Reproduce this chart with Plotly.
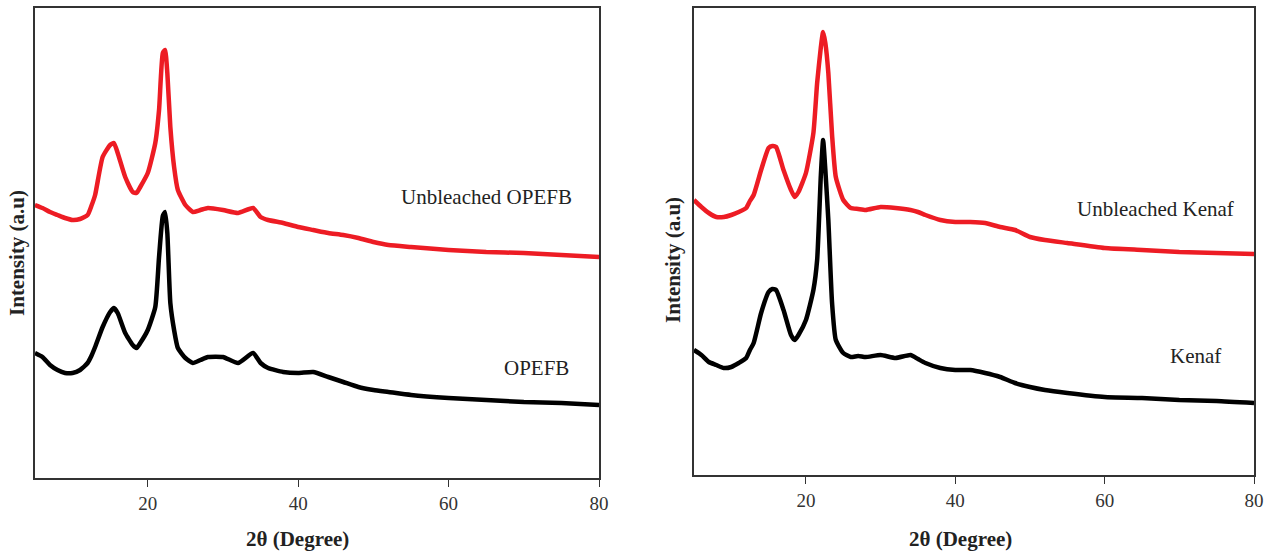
import plotly.graph_objects as go

# 2-theta positions (degrees)
two_theta = [5, 6, 7, 8, 9, 10, 11, 12, 12.5, 13, 14, 15, 15.5, 16, 17, 18, 18.5, 19, 20, 21, 21.5,
             22, 22.3, 22.6, 23, 23.5, 24, 25, 26, 27, 28, 30, 32, 34, 35, 36, 38, 40,
             42, 44, 46, 48, 50, 52, 55, 60, 65, 70, 75, 80]

# Intensities (a.u.)
opefb_unbleached = [273, 270, 266, 263, 260, 258, 259, 263, 272, 283, 321, 333, 335, 325, 301, 286, 285, 291, 305, 335, 368,
                    425, 428, 405, 351, 311, 288, 273, 266, 268, 270, 268, 265, 270, 261, 258, 255, 251,
                    248, 245, 243, 240, 236, 233, 231, 228, 226, 225, 223, 221]
opefb = [125, 121, 113, 108, 105, 105, 108, 115, 122, 131, 151, 166, 170, 165, 145, 133, 130, 135, 148, 171, 221,
         262, 266, 245, 175, 148, 130, 120, 115, 118, 121, 121, 115, 125, 115, 110, 106, 105,
         106, 101, 96, 91, 88, 86, 83, 80, 78, 76, 75, 73]
kenaf_unbleached = [275, 268, 262, 258, 258, 260, 263, 267, 274, 280, 305, 327, 329, 328, 305, 285, 278, 283, 302, 342, 392,
                    428, 443, 432, 402, 340, 298, 275, 267, 266, 265, 268, 267, 265, 263, 260, 255, 253,
                    253, 252, 248, 245, 238, 235, 232, 227, 225, 223, 222, 221]
kenaf = [125, 120, 113, 110, 107, 108, 112, 117, 125, 132, 162, 183, 186, 185, 165, 140, 135, 140, 155, 185, 215,
         300, 335, 305, 255, 172, 135, 122, 118, 119, 118, 120, 117, 120, 116, 112, 107, 105,
         105, 102, 98, 92, 88, 85, 82, 78, 77, 75, 74, 72]

x_ticks = [20, 40, 60, 80]

RED = "#ED1C24"
FONT = "Liberation Serif"
LINE = dict(width=4.5, shape="spline", smoothing=0.5)

fig = go.Figure()
fig.add_trace(go.Scatter(x=two_theta, y=opefb_unbleached, mode="lines", line=dict(LINE, color=RED), xaxis="x", yaxis="y"))
fig.add_trace(go.Scatter(x=two_theta, y=opefb, mode="lines", line=dict(LINE, color="black"), xaxis="x", yaxis="y"))
fig.add_trace(go.Scatter(x=two_theta, y=kenaf_unbleached, mode="lines", line=dict(LINE, color=RED), xaxis="x2", yaxis="y2"))
fig.add_trace(go.Scatter(x=two_theta, y=kenaf, mode="lines", line=dict(LINE, color="black"), xaxis="x2", yaxis="y2"))

H = 554
WX = 1271  # effective horizontal span used for placing elements in paper fractions
axcommon = dict(showgrid=False, zeroline=False, showline=True, mirror=True, linecolor="#333333", linewidth=1.5)
xcommon = dict(axcommon, range=[5, 80], tickvals=x_ticks, ticks="outside", ticklen=7, tickcolor="#333333",
               tickfont=dict(family=FONT, size=19, color="#333333"))
ycommon = dict(axcommon, range=[0, 470], showticklabels=False, ticks="")

fig.update_layout(
    autosize=True, margin=dict(l=0, r=0, t=0, b=0),
    paper_bgcolor="white", plot_bgcolor="white", showlegend=False,
    xaxis=dict(xcommon, domain=[35 / WX, 600 / WX], anchor="y"),
    yaxis=dict(ycommon, domain=[(H - 478) / H, (H - 8) / H], anchor="x"),
    xaxis2=dict(xcommon, domain=[695 / WX, 1256 / WX], anchor="y2"),
    yaxis2=dict(ycommon, range=[0, 467], domain=[(H - 475) / H, (H - 8) / H], anchor="x2"),
    font=dict(family=FONT, color="#222222"),
)

def ann(x, y, text, size=21, bold=False, angle=0):
    fig.add_annotation(x=x / WX, y=1 - y / H, xref="paper", yref="paper", text=("<b>%s</b>" % text) if bold else text,
                       showarrow=False, textangle=angle, xanchor="center", yanchor="middle",
                       font=dict(family=FONT, size=size, color="#222222"))

ann(298, 539, "2θ (Degree)", bold=True)
ann(962, 539, "2θ (Degree)", bold=True)
ann(17, 253, "Intensity (a.u)", bold=True, angle=-90)
ann(674, 260, "Intensity (a.u)", bold=True, angle=-90)
ann(487, 197, "Unbleached OPEFB")
ann(537, 368, "OPEFB")
ann(1157, 209, "Unbleached Kenaf")
ann(1197, 356, "Kenaf")

fig.write_html(
    "out.html",
    default_width="100vw",
    default_height="100vh",
    config={"displayModeBar": False},
    post_script="document.body.style.margin='0';document.body.style.overflow='hidden';",
)
